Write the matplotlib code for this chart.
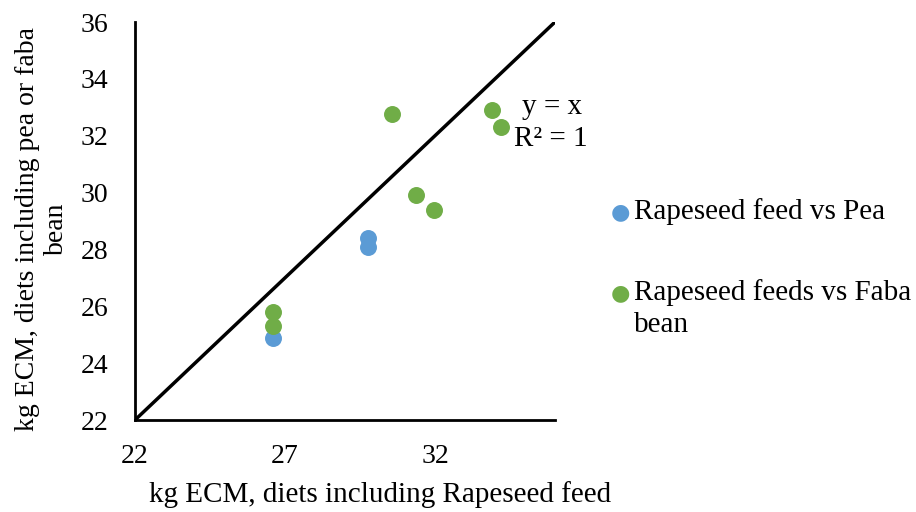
import matplotlib.pyplot as plt
import numpy as np

plt.rcParams['font.family'] = ['Liberation Serif', 'DejaVu Serif']

# Rapeseed feed vs Pea
pea_x = [26.6, 29.75, 29.75]
pea_y = [24.9, 28.4, 28.1]

# Rapeseed feeds vs Faba bean
faba_x = [26.6, 26.6, 30.55, 31.35, 31.95, 33.9, 34.2]
faba_y = [25.8, 25.3, 32.75, 29.9, 29.4, 32.9, 32.3]

line_x = [22, 36]
line_y = [22, 36]

x_ticks = [22, 27, 32]
y_ticks = [22, 24, 26, 28, 30, 32, 34, 36]

fig = plt.figure(figsize=(9.16, 5.12), dpi=100)
ax = fig.add_axes([135 / 916, 1 - 420 / 512, 420 / 916, 398 / 512])

ax.plot(line_x, line_y, color='black', lw=2.5, zorder=2)
ax.scatter(pea_x, pea_y, s=125, color='#5B9BD5', zorder=3, clip_on=False)
ax.scatter(faba_x, faba_y, s=125, color='#70AD47', zorder=3, clip_on=False)

ax.set_xlim(22, 36)
ax.set_ylim(22, 36)
ax.set_xticks(x_ticks)
ax.set_yticks(y_ticks)
ax.tick_params(length=0, labelsize=20)
ax.tick_params(axis='x', pad=17)
ax.tick_params(axis='y', pad=19)

for side in ['top', 'right']:
    ax.spines[side].set_visible(False)
for side in ['left', 'bottom']:
    ax.spines[side].set_linewidth(2)

ax.text(35.9, 33.0, 'y = x', fontsize=21, ha='center', va='center', clip_on=False)
ax.text(35.85, 31.9, 'R² = 1', fontsize=21, ha='center', va='center', clip_on=False)

# axis titles
fig.text(380 / 916, 1 - 495 / 512, 'kg ECM, diets including Rapeseed feed',
         fontsize=21, ha='center', va='center')
fig.text(42 / 916, 1 - 229 / 512, 'kg ECM, diets including pea or faba\nbean',
         fontsize=20, ha='center', va='center', rotation=90,
         multialignment='center', linespacing=1.2)

# legend drawn by hand to mimic the wrapped entry
fig.text(620 / 916, 1 - 212 / 512, '●', color='#5B9BD5', fontsize=16,
         ha='center', va='center', family='DejaVu Sans')
fig.text(634 / 916, 1 - 212 / 512, 'Rapeseed feed vs Pea', fontsize=21,
         va='center')
fig.text(620 / 916, 1 - 293 / 512, '●', color='#70AD47', fontsize=16,
         ha='center', va='center', family='DejaVu Sans')
fig.text(634 / 916, 1 - 293 / 512, 'Rapeseed feeds vs Faba', fontsize=21,
         va='center')
fig.text(634 / 916, 1 - 325 / 512, 'bean', fontsize=21, va='center')

fig.savefig('out.png', dpi=100)
